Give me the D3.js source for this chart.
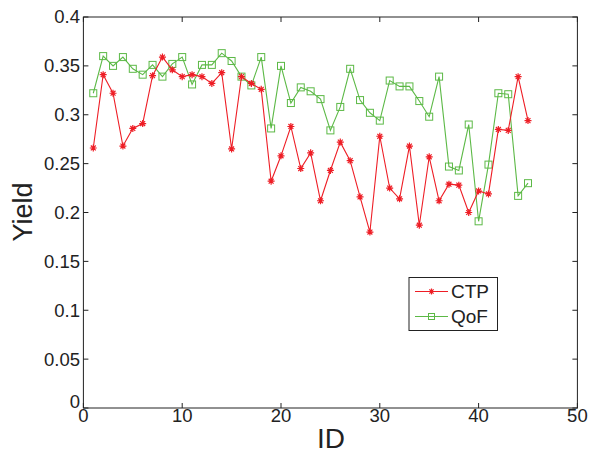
<!DOCTYPE html>
<html><head><meta charset="utf-8">
<script src="https://cdn.jsdelivr.net/npm/d3@7/dist/d3.min.js"></script>
<style>body{margin:0;background:#fff}svg{display:block;font-family:"Liberation Sans",Arial,sans-serif}</style>
</head><body><svg id="c" width="590" height="454"></svg>
<script>
const ids = d3.range(1, 46);
const ctp = [0.266,0.341,0.322,0.268,0.286,0.291,0.340,0.359,0.346,0.339,0.341,0.339,0.332,0.343,0.265,0.339,0.332,0.326,0.232,0.258,0.288,0.245,0.261,0.212,0.243,0.272,0.253,0.216,0.180,0.278,0.225,0.214,0.268,0.187,0.257,0.212,0.229,0.228,0.200,0.222,0.219,0.285,0.284,0.339,0.294];
const qof = [0.322,0.360,0.350,0.359,0.347,0.341,0.351,0.339,0.352,0.359,0.331,0.351,0.351,0.363,0.355,0.339,0.330,0.359,0.286,0.350,0.312,0.328,0.324,0.316,0.284,0.308,0.347,0.315,0.302,0.294,0.335,0.329,0.329,0.314,0.298,0.339,0.247,0.243,0.290,0.191,0.249,0.322,0.321,0.217,0.230];
const xTicks = [0,10,20,30,40,50];
const yTicks = [0,0.05,0.1,0.15,0.2,0.25,0.3,0.35,0.4];
const seriesNames = ["CTP","QoF"];
const colors = {CTP:"#ee1d25", QoF:"#5cb946"};

const svg = d3.select("#c");
const L=83.4, R=577.4, T=17, B=408;
const x = d3.scaleLinear().domain([0,50]).range([L,R]);
const y = d3.scaleLinear().domain([0,0.4]).range([B,T]);
const fmt = d => d3.format("")(+d.toFixed(2));

svg.append("rect").attr("x",L).attr("y",T).attr("width",R-L).attr("height",B-T)
  .attr("fill","none").attr("stroke","#222").attr("stroke-width",1);

const tl = 5;
const ax = svg.append("g").attr("stroke","#222").attr("stroke-width",1);
xTicks.forEach(t=>{
  ax.append("line").attr("x1",x(t)).attr("x2",x(t)).attr("y1",B).attr("y2",B-tl);
  ax.append("line").attr("x1",x(t)).attr("x2",x(t)).attr("y1",T).attr("y2",T+tl);
});
yTicks.forEach(t=>{
  ax.append("line").attr("x1",L).attr("x2",L+tl).attr("y1",y(t)).attr("y2",y(t));
  ax.append("line").attr("x1",R).attr("x2",R-tl).attr("y1",y(t)).attr("y2",y(t));
});
svg.append("g").selectAll("text").data(xTicks).join("text")
  .attr("x",d=>x(d)).attr("y",422).attr("text-anchor","middle")
  .attr("font-size",18.5).attr("fill","#222").text(d=>d);
svg.append("g").selectAll("text").data(yTicks).join("text")
  .attr("x",80).attr("y",d=>d===0 ? y(d)-6 : y(d)).attr("dy","0.35em").attr("text-anchor","end")
  .attr("font-size",18.5).attr("fill","#222").text(fmt);

svg.append("text").attr("x",331).attr("y",448).attr("text-anchor","middle")
  .attr("font-size",28).attr("fill","#222").text("ID");
svg.append("text").attr("transform","translate(32,212) rotate(-90)").attr("text-anchor","middle")
  .attr("font-size",27).attr("fill","#222").text("Yield");

const line = d3.line().x((d,i)=>x(ids[i])).y(d=>y(d));
const star = s => `M${-s},0H${s}M0,${-s}V${s}M${-s*0.7},${-s*0.7}L${s*0.7},${s*0.7}M${-s*0.7},${s*0.7}L${s*0.7},${-s*0.7}`;

function drawSeries(data, name, kind){
  const c = colors[name];
  svg.append("path").datum(data).attr("d",line).attr("fill","none").attr("stroke",c).attr("stroke-width",1.1);
  const g = svg.append("g");
  data.forEach((d,i)=>{
    if(kind==="star"){
      g.append("path").attr("d",star(3.5)).attr("transform",`translate(${x(ids[i])},${y(d)})`)
        .attr("stroke",c).attr("stroke-width",1.2).attr("fill","none");
    } else {
      g.append("rect").attr("x",x(ids[i])-3.5).attr("y",y(d)-3.5).attr("width",7).attr("height",7)
        .attr("stroke",c).attr("stroke-width",1).attr("fill","none");
    }
  });
}
drawSeries(qof,"QoF","sq");
drawSeries(ctp,"CTP","star");

const lg = svg.append("g");
lg.append("rect").attr("x",409).attr("y",277.5).attr("width",88.5).attr("height",53)
  .attr("fill","#fff").attr("stroke","#222").attr("stroke-width",1);
seriesNames.forEach((n,i)=>{
  const yy = 291.5 + i*25;
  lg.append("line").attr("x1",415).attr("x2",448).attr("y1",yy).attr("y2",yy).attr("stroke",colors[n]).attr("stroke-width",1.1);
  if(i===0) lg.append("path").attr("d",star(3)).attr("transform",`translate(431.5,${yy})`).attr("stroke",colors[n]).attr("stroke-width",1.2);
  else lg.append("rect").attr("x",428.5).attr("y",yy-3).attr("width",6).attr("height",6).attr("stroke",colors[n]).attr("fill","none");
  lg.append("text").attr("x",451).attr("y",yy).attr("dy","0.36em").attr("font-size",19).attr("fill","#222").text(n);
});
</script></body></html>
